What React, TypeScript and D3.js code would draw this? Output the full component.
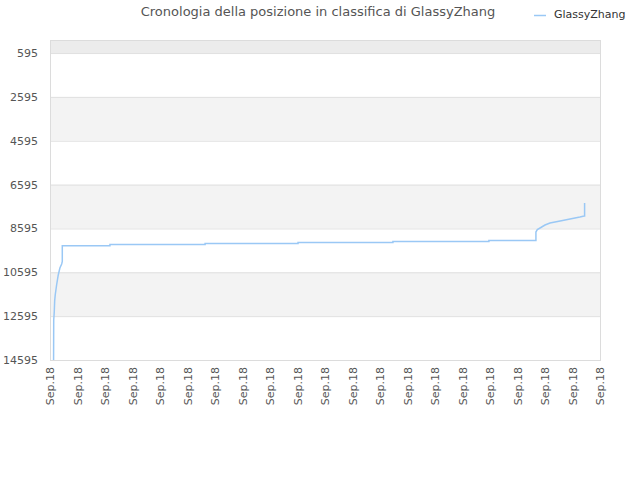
import React, { useEffect, useRef } from 'react';
import * as d3 from 'd3';

// x in tick units (one tick per "Sep.18" label), rank on y
const timePoints = [0.13, 0.135, 0.145, 0.155, 0.17, 0.19, 0.24, 0.30, 0.36, 0.425, 0.447, 0.447, 2.18, 2.18, 5.64, 5.64, 9.02, 9.02, 12.47, 12.47, 15.96, 15.96, 17.67, 17.67, 17.72, 17.82, 18.0, 18.18, 18.55, 18.91, 19.27, 19.42, 19.44, 19.44];
const ranks = [14595, 12770, 12600, 12392, 11900, 11630, 11174, 10718, 10399, 10216, 10100, 9382, 9382, 9327, 9327, 9282, 9282, 9236, 9236, 9190, 9190, 9145, 9145, 8757, 8650, 8575, 8438, 8347, 8255, 8164, 8073, 8027, 8027, 7434];
const xTickLabels = Array(21).fill('Sep.18');
const yTicks = [595, 2595, 4595, 6595, 8595, 10595, 12595, 14595];
const seriesName = 'GlassyZhang';
const title = 'Cronologia della posizione in classifica di GlassyZhang';

const width = 640;
const height = 480;
const lineColor = '#9ac8f5';

const App: React.FC = () => {
    const svgRef = useRef<SVGSVGElement | null>(null);

    useEffect(() => {
        const svg = d3.select(svgRef.current);
        svg.selectAll('*').remove();

        const margin = { top: 40, right: 40, bottom: 120, left: 50 };
        const innerWidth = width - margin.left - margin.right;
        const innerHeight = height - margin.top - margin.bottom;
        const font = '"DejaVu Sans", sans-serif';

        const xScale = d3.scaleLinear()
            .domain([0, xTickLabels.length - 1])
            .range([margin.left, margin.left + innerWidth]);

        const yScale = d3.scaleLinear()
            .domain([0, 14595])
            .range([margin.top, margin.top + innerHeight]);

        // bands
        const bandEdges = [0, ...yTicks];
        const bands = svg.append('g');
        for (let i = 0; i < bandEdges.length - 1; i++) {
            bands.append('rect')
                .attr('x', margin.left)
                .attr('width', innerWidth)
                .attr('y', yScale(bandEdges[i]))
                .attr('height', yScale(bandEdges[i + 1]) - yScale(bandEdges[i]))
                .attr('fill', i === 0 ? '#ececec' : (i % 2 === 0 ? '#f3f3f3' : '#ffffff'));
        }

        // grid lines
        svg.append('g').selectAll('line')
            .data(yTicks)
            .join('line')
            .attr('x1', margin.left)
            .attr('x2', margin.left + innerWidth)
            .attr('y1', d => yScale(d) + 0.5)
            .attr('y2', d => yScale(d) + 0.5)
            .attr('stroke', '#e0e0e0');

        // frame
        svg.append('rect')
            .attr('x', margin.left + 0.5)
            .attr('y', margin.top + 0.5)
            .attr('width', innerWidth)
            .attr('height', innerHeight)
            .attr('fill', 'none')
            .attr('stroke', '#dcdcdc');

        // y labels
        svg.append('g').selectAll('text')
            .data(yTicks)
            .join('text')
            .attr('x', margin.left - 12)
            .attr('y', d => yScale(d) + 4)
            .attr('text-anchor', 'end')
            .attr('font-family', font)
            .attr('font-size', 11)
            .attr('fill', '#555')
            .text(d => d);

        // x labels
        svg.append('g').selectAll('text')
            .data(xTickLabels)
            .join('text')
            .attr('transform', (_, i) => `translate(${xScale(i) + 4},${margin.top + innerHeight + 7}) rotate(-90)`)
            .attr('text-anchor', 'end')
            .attr('font-family', font)
            .attr('font-size', 11)
            .attr('fill', '#555')
            .text(d => d);

        // line
        const data = timePoints.map((t, i) => ({ t, r: ranks[i] }));
        const line = d3.line<{ t: number; r: number }>()
            .x(d => xScale(d.t))
            .y(d => yScale(d.r));

        svg.append('path')
            .datum(data)
            .attr('d', line)
            .attr('fill', 'none')
            .attr('stroke', lineColor)
            .attr('stroke-width', 1.5);

        // title
        svg.append('text')
            .attr('x', 318)
            .attr('y', 16)
            .attr('text-anchor', 'middle')
            .attr('font-family', font)
            .attr('font-size', 13)
            .attr('fill', '#555')
            .text(title);

        // legend
        svg.append('line')
            .attr('x1', 534)
            .attr('x2', 546)
            .attr('y1', 15.5)
            .attr('y2', 15.5)
            .attr('stroke', lineColor)
            .attr('stroke-width', 1.5);
        svg.append('text')
            .attr('x', 554)
            .attr('y', 18)
            .attr('font-family', font)
            .attr('font-size', 11)
            .attr('fill', '#333')
            .text(seriesName);
    }, []);

    return (
        <svg ref={svgRef} width={width} height={height}
            style={{ position: 'absolute', top: 0, left: 0, background: '#fff' }} />
    );
};

export default App;
